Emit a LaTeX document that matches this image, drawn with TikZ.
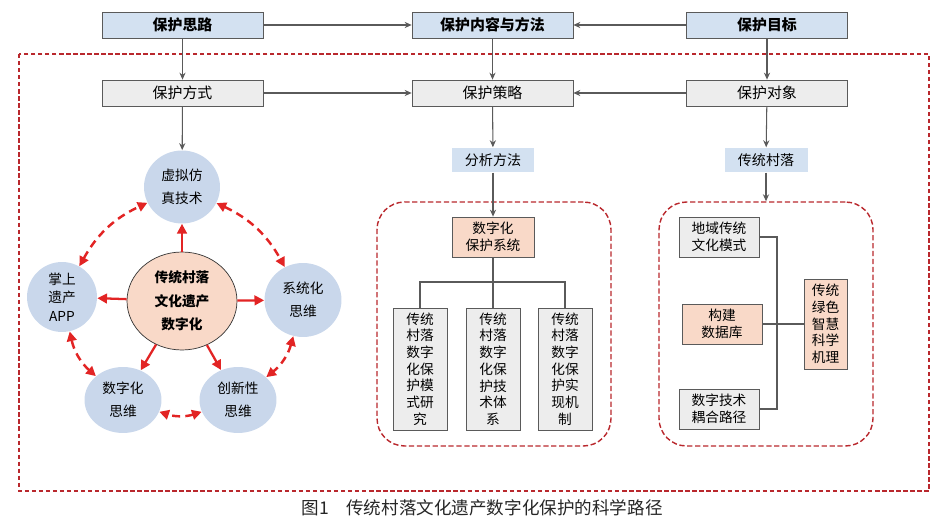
\documentclass[tikz,border=0pt]{standalone}
\usepackage{fontspec}
\setmainfont{Noto Sans CJK SC}
\usetikzlibrary{arrows.meta,shapes.geometric,positioning}
\definecolor{headblue}{RGB}{211,225,241}
\definecolor{boxgray}{RGB}{237,237,237}
\definecolor{peach}{RGB}{249,217,200}
\definecolor{ringblue}{RGB}{201,215,235}
\definecolor{boxline}{RGB}{90,90,90}
\definecolor{arrowred}{RGB}{226,36,36}
\definecolor{framered}{RGB}{185,40,45}
\tikzset{
	headbox/.style={draw=boxline,fill=headblue,minimum width=3.22cm,minimum height=0.52cm,font=\bfseries\fontsize{8.5}{10}\selectfont},
	partbox/.style={draw=boxline,fill=boxgray,minimum width=3.22cm,minimum height=0.52cm,font=\fontsize{8.5}{10}\selectfont},
	tagbox/.style={fill=headblue,minimum width=1.66cm,minimum height=0.48cm,font=\fontsize{8}{10}\selectfont},
	smallbox/.style={draw=boxline,fill=boxgray,minimum width=1.6cm,minimum height=0.8cm,align=center,inner sep=1pt,font=\fontsize{7.8}{9.5}\selectfont},
	keybox/.style={smallbox,fill=peach},
	colbox/.style={draw=boxline,fill=boxgray,minimum width=1.08cm,minimum height=2.44cm,align=center,inner sep=1pt,font=\fontsize{7.8}{9.5}\selectfont},
	ring/.style={ellipse,fill=ringblue,minimum width=1.54cm,minimum height=1.48cm,inner sep=0pt,align=center,font=\fontsize{7.8}{13}\selectfont},
	hub/.style={ellipse,draw=black!80,fill=peach,minimum width=2.2cm,minimum height=1.96cm,inner sep=0pt,align=center,font=\bfseries\fontsize{7.8}{13.5}\selectfont},
	link/.style={-{Stealth[length=4pt,width=3.5pt]},color=boxline,semithick},
	wire/.style={color=boxline,semithick},
	spoke/.style={-{Triangle[length=5.5pt,width=5.5pt]},color=arrowred,line width=1.3pt},
	ringedge/.style={{Triangle[length=5.5pt,width=5.5pt]}-{Triangle[length=5.5pt,width=5.5pt]},color=arrowred,line width=1.4pt,dash pattern=on 4.5pt off 3pt},
	frame/.style={draw=framered,line width=0.7pt,dash pattern=on 2.5pt off 1.5pt},
	subframe/.style={draw=framered,line width=0.8pt,dash pattern=on 3pt off 1.5pt,rounded corners=0.55cm}
}

\begin{document}
\begin{tikzpicture}[x=0.02cm,y=-0.02cm]
	\useasboundingbox (0,0) rectangle (950,523);
	\draw[frame] (19,54) rectangle (929,491);
	
	\node[headbox] (idea) at (182.5,25) {保护思路};
	\node[headbox] (content) at (492.5,25) {保护内容与方法};
	\node[headbox] (goal) at (767,25) {保护目标};
	\node[partbox] (way) at (182.5,93) {保护方式};
	\node[partbox] (plan) at (492.5,93) {保护策略};
	\node[partbox] (object) at (767,93) {保护对象};
	
	\draw[link] (idea) -- (content);
	\draw[link] (goal) -- (content);
	\draw[link] (way) -- (plan);
	\draw[link] (object) -- (plan);
	\draw[link] (idea) -- (way);
	\draw[link] (content) -- (plan);
	\draw[link] (goal) -- (object);
	
	% left: ring of circles
	\node[hub] (core) at (182,301) {传统村落\\文化遗产\\数字化};
	\node[ring,minimum width=1.52cm,minimum height=1.46cm] (sim) at (182,187) {虚拟仿\\真技术};
	\node[ring] (systhink) at (303,300) {系统化\\思维};
	\node[ring,minimum width=1.4cm,minimum height=1.4cm,font=\fontsize{7.8}{10.5}\selectfont] (app) at (62,297) {掌上\\遗产\\APP};
	\node[ring,minimum height=1.32cm] (digthink) at (123,400) {数字化\\思维};
	\node[ring,minimum height=1.32cm] (newthink) at (238,400) {创新性\\思维};
	
	\draw[link] (way) -- (sim);
	\foreach \t in {sim,systhink,newthink,digthink,app}
		\draw[spoke] (core) -- (\t);
	\draw[ringedge] (sim) to[bend left=18] (systhink);
	\draw[ringedge] (systhink) to[bend left=18] (newthink);
	\draw[ringedge] (newthink) to[bend left=18] (digthink);
	\draw[ringedge] (digthink) to[bend left=18] (app);
	\draw[ringedge] (app) to[bend left=18] (sim);
	
	% middle: analysis
	\node[tagbox] (method) at (493,160) {分析方法};
	\node[subframe,minimum width=4.68cm,minimum height=4.88cm] (mframe) at (494,324) {};
	\node[keybox,minimum width=1.64cm] (system) at (493,237) {数字化\\保护系统};
	\node[colbox] (colA) at (420,369) {传统\\村落\\数字\\化保\\护模\\式研\\究};
	\node[colbox] (colB) at (493,369) {传统\\村落\\数字\\化保\\护技\\术体\\系};
	\node[colbox] (colC) at (565,369) {传统\\村落\\数字\\化保\\护实\\现机\\制};
	\coordinate (fork) at (493,282);
	
	\draw[link] (plan) -- (method);
	\draw[link] (method) -- (system);
	\draw[wire] (system) -- (colB);
	\draw[wire] (colA.north) |- (fork) -| (colC.north);
	
	% right: villages
	\node[tagbox] (village) at (766,160) {传统村落};
	\node[subframe,minimum width=4.28cm,minimum height=4.88cm] (rframe) at (766,324) {};
	\node[smallbox] (region) at (719,237) {地域传统\\文化模式};
	\node[keybox] (database) at (722,324) {构建\\数据库};
	\node[smallbox] (couple) at (719,409) {数字技术\\耦合路径};
	\node[keybox,minimum width=0.86cm,minimum height=1.8cm] (wisdom) at (825.5,324) {传统\\绿色\\智慧\\科学\\机理};
	\coordinate (bus) at (777,324);
	
	\draw[link] (object) -- (village);
	\draw[link] (village) -- (rframe);
	\draw[wire] (region.east) -| (bus) |- (couple.east);
	\draw[wire] (database) -- (wisdom);
	
	\node[font=\fontsize{10}{12}\selectfont,text=black!85] (title) at (482,508) {图1\quad 传统村落文化遗产数字化保护的科学路径};
\end{tikzpicture}
\end{document}
